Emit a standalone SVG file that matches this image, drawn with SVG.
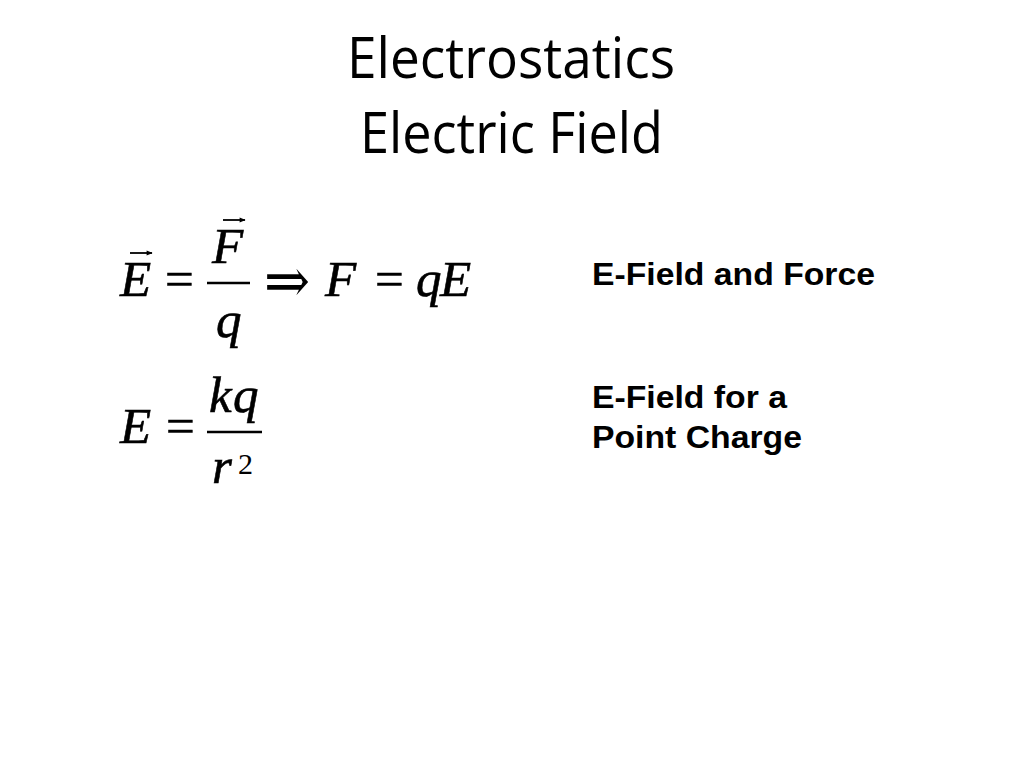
<svg xmlns="http://www.w3.org/2000/svg" width="1024" height="768" viewBox="0 0 1024 768">
<style>
.title{font-family:"Open Sans","Lato",sans-serif;font-size:56px;fill:#000}
.m{font-family:"Liberation Serif","Times New Roman",serif;font-size:51px;font-style:italic;fill:#000;stroke:#000;stroke-width:0.6}
.op{font-family:"Liberation Serif","Times New Roman",serif;font-size:51px;fill:#000;stroke:#000;stroke-width:0.6}
.sym{font-family:"DejaVu Sans","DejaVu Serif",sans-serif;font-weight:200;font-size:62px;fill:#000}
.sup{font-family:"Liberation Serif","Times New Roman",serif;font-size:30px;fill:#000}
.lbl{font-family:"Liberation Sans",Arial,sans-serif;font-size:31px;font-weight:bold;fill:#000}
.bar{stroke:#000;stroke-width:2.4;fill:none}
.vec{stroke:#000;stroke-width:1.8;fill:none}
</style>
<defs>
<marker id="ah" viewBox="0 0 10 10" refX="9" refY="5" markerWidth="7" markerHeight="6" markerUnits="userSpaceOnUse" orient="auto">
<path d="M0,1 L10,5 L0,9 Z" fill="#000"/>
</marker>
</defs>
<rect width="1024" height="768" fill="#fff"/>
<g id="title">
<text class="title" x="347" y="78" textLength="328" lengthAdjust="spacingAndGlyphs">Electrostatics</text>
<text class="title" x="360" y="153" textLength="303" lengthAdjust="spacingAndGlyphs">Electric Field</text>
</g>
<g id="eq1">
<text class="m" x="120" y="296">E</text>
<line class="vec" x1="130" y1="253" x2="152" y2="253" marker-end="url(#ah)"/>
<text class="op" x="165" y="296">=</text>
<text class="m" x="212" y="263">F</text>
<line class="vec" x1="223" y1="220" x2="245" y2="220" marker-end="url(#ah)"/>
<line class="bar" x1="207" y1="283" x2="250" y2="283"/>
<text class="m" x="216" y="337">q</text>
<text class="sym" x="264" y="302" textLength="46" lengthAdjust="spacingAndGlyphs">⇒</text>
<text class="m" x="325" y="296">F</text>
<text class="op" x="375" y="296">=</text>
<text class="m" x="416" y="296">q</text>
<text class="m" x="440" y="296">E</text>
</g>
<g id="eq2">
<text class="m" x="120" y="443">E</text>
<text class="op" x="166" y="443">=</text>
<text class="m" x="209" y="412">k</text>
<text class="m" x="233" y="412">q</text>
<line class="bar" x1="207" y1="432" x2="262" y2="432"/>
<text class="m" x="212" y="483">r</text>
<text class="sup" x="238" y="474">2</text>
</g>
<g id="label1">
<text class="lbl" x="592" y="285" textLength="283" lengthAdjust="spacingAndGlyphs">E-Field and Force</text>
</g>
<g id="label2">
<text class="lbl" x="592" y="408" textLength="195" lengthAdjust="spacingAndGlyphs">E-Field for a</text>
<text class="lbl" x="592" y="448" textLength="210" lengthAdjust="spacingAndGlyphs">Point Charge</text>
</g>
</svg>
